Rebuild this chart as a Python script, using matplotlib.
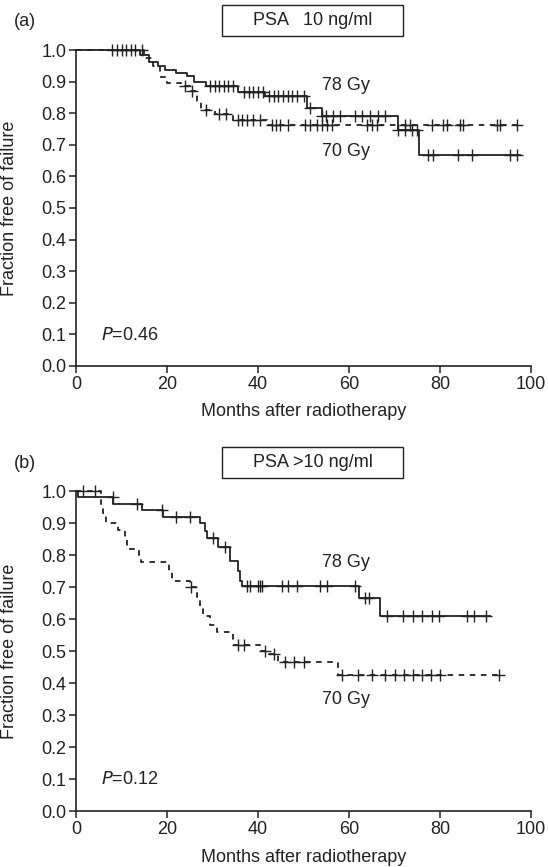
import numpy as np
import matplotlib
matplotlib.use('Agg')
import matplotlib.pyplot as plt
from matplotlib.patches import Rectangle

plt.rcParams['font.family'] = ['Liberation Sans', 'DejaVu Sans']
plt.rcParams['lines.scale_dashes'] = False

# (a) PSA <= 10 ng/ml -- step times and survival after each step
a78_t = [0, 14, 16, 18, 19.5, 22, 24.5, 26, 28.5, 35.5, 41.5, 50.8, 54, 70.8, 75.4]
a78_s = [1.0, 0.985, 0.962, 0.949, 0.937, 0.926, 0.918, 0.90, 0.886, 0.868, 0.854, 0.815, 0.79, 0.747, 0.668]
a78_end = 97.6
a78_cens = [9, 11, 13, 29.5, 30.5, 31.5, 32.5, 33.5, 34.5, 37, 38, 39, 40, 41, 42.5, 43.5, 44.5,
            45.5, 46.5, 47.5, 48.5, 50, 51.5, 54, 55, 56.5, 58, 61.3, 62.9, 64.6, 66.4, 67.9, 70.8,
            72.3, 73.8, 74.9, 77.4, 78.5, 84, 87, 95.4, 96.9]

a70_t = [0, 15, 17, 18.5, 20, 23, 25, 26.5, 27.5, 30.5, 34.5, 42]
a70_s = [1.0, 0.975, 0.95, 0.915, 0.895, 0.885, 0.87, 0.84, 0.81, 0.797, 0.778, 0.762]
a70_end = 97
a70_cens = [8, 10, 12, 14.5, 24, 25.5, 28.5, 31.5, 33, 35.5, 36.4, 37.5, 39, 40.4, 43, 44, 44.8,
            46.5, 50.3, 51.4, 52.9, 54, 55.1, 56.2, 63.9, 65, 66.1, 72.3, 73.4, 78.2, 80.7, 81.5,
            84.4, 85, 92.5, 93.2, 97]

# (b) PSA > 10 ng/ml
b78_t = [0, 0.5, 8.2, 14.4, 19.1, 27.3, 28.3, 28.8, 31.3, 33.8, 35.6, 36.0, 36.4, 62.3, 66.8]
b78_s = [1.0, 0.982, 0.959, 0.94, 0.918, 0.90, 0.875, 0.853, 0.826, 0.781, 0.75, 0.72, 0.703, 0.665, 0.61]
b78_end = 91
b78_cens = [8.1, 13.5, 18.8, 22, 25, 30, 32.7, 37.5, 38.2, 40.1, 40.4, 40.8, 45.2, 46.7, 48.6,
            53.6, 55.2, 61.3, 63.5, 64.5, 68.3, 71.9, 74.1, 76, 78.2, 79.7, 85.9, 87.4, 90.1]

b70_t = [0, 5.5, 6.0, 6.6, 9.3, 10.8, 11.2, 13.8, 14.2, 20.5, 21, 25.0, 26.5, 27.2, 28, 29.5,
         31, 34.5, 40.5, 42.5, 44.5, 57.5]
b70_s = [1.0, 0.96, 0.93, 0.90, 0.878, 0.85, 0.82, 0.80, 0.778, 0.75, 0.72, 0.70, 0.67, 0.64,
         0.61, 0.58, 0.56, 0.52, 0.50, 0.49, 0.465, 0.425]
b70_end = 93
b70_cens = [1.5, 4.2, 25.3, 35.5, 37, 41.5, 43.5, 46, 48, 50, 58.5, 62, 65, 68, 70, 72, 74, 76,
            78, 80, 93]

panels = [
    dict(tag='(a)', title='PSA   10 ng/ml', p='0.46',
         curves=[(a78_t, a78_s, a78_end, a78_cens, '-'), (a70_t, a70_s, a70_end, a70_cens, '--')],
         lab78=0.888, lab70=0.679),
    dict(tag='(b)', title='PSA >10 ng/ml', p='0.12',
         curves=[(b78_t, b78_s, b78_end, b78_cens, '-'), (b70_t, b70_s, b70_end, b70_cens, '--')],
         lab78=0.778, lab70=0.35),
]

W, H = 548, 867
fig = plt.figure(figsize=(W / 100, H / 100), dpi=100)
FS = 13
col = '#222222'

# pixel boxes: (top of y=1.0, bottom of y=0.0), title box top/bottom
boxes = [dict(top=50, bot=366, bt=5, bb=36), dict(top=491, bot=811, bt=447, bb=478)]
left, right = 76, 531

for pan, bx in zip(panels, boxes):
    ax = fig.add_axes([left / W, 1 - bx['bot'] / H, (right - left) / W, (bx['bot'] - bx['top']) / H])
    for t, s, end, cens, ls in pan['curves']:
        tt = list(t) + [end]
        ss = list(s) + [s[-1]]
        kw = dict(dashes=(4, 4)) if ls == '--' else {}
        ax.step(tt, ss, where='post', color=col, lw=1.3, clip_on=False, **kw)
        idx = np.searchsorted(np.array(t), np.array(cens), side='right') - 1
        ax.plot(cens, np.array(s)[idx], ls='none', marker='+', ms=8, mew=1.0,
                color=col, clip_on=False)

    ax.set_xlim(0, 100)
    ax.set_ylim(0, 1.0)
    ax.set_xticks(range(0, 101, 20))
    ax.set_yticks(np.arange(0, 1.01, 0.1))
    ax.set_yticklabels([f'{v:.1f}' for v in np.arange(0, 1.01, 0.1)])
    for sp in ['top', 'right']:
        ax.spines[sp].set_visible(False)
    for sp in ['left', 'bottom']:
        ax.spines[sp].set_linewidth(1.2)
        ax.spines[sp].set_color(col)
    ax.tick_params(direction='out', length=5, width=1.1, color=col, labelsize=FS,
                   labelcolor=col, pad=2)
    ax.set_xlabel('Months after radiotherapy', fontsize=FS, color=col)
    ax.xaxis.set_label_coords(0.5, -0.118)
    ax.xaxis.label.set_va('top')
    ax.set_ylabel('Fraction free of failure', fontsize=FS, color=col)
    ax.yaxis.set_label_coords(-0.127, 0.5)

    ax.text(54, pan['lab78'], '78 Gy', fontsize=FS, color=col, va='center', ha='left')
    ax.text(54, pan['lab70'], '70 Gy', fontsize=FS, color=col, va='center', ha='left')
    ax.text(5.4, 0.097, r'$\it{P}$' + '=' + pan['p'], fontsize=FS, color=col, va='center', ha='left')

    # title box and panel tag
    x0, x1 = 222, 403
    fig.patches.append(Rectangle((x0 / W, 1 - bx['bb'] / H), (x1 - x0) / W,
                                 (bx['bb'] - bx['bt']) / H, transform=fig.transFigure,
                                 fill=False, ec=col, lw=1.0))
    fig.text((x0 + x1) / 2 / W, 1 - (bx['bt'] + bx['bb']) / 2 / H, pan['title'], fontsize=FS,
             color=col, ha='center', va='center')
    fig.text(14 / W, 1 - (bx['top'] - 28) / H, pan['tag'], fontsize=FS, color=col,
             ha='left', va='center')

fig.savefig('out.png', dpi=100)
